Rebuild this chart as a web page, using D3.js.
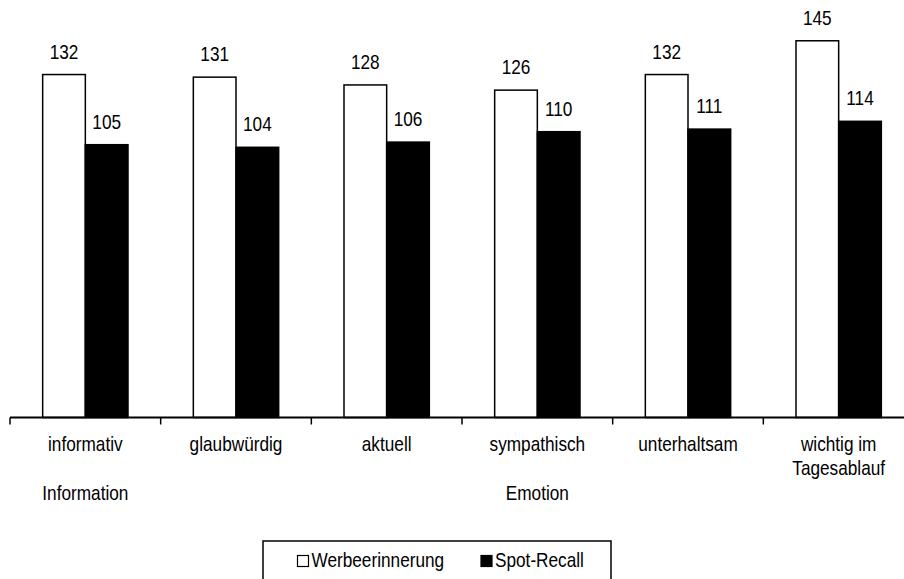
<!DOCTYPE html>
<html><head><meta charset="utf-8">
<script src="https://cdn.jsdelivr.net/npm/d3@7"></script>
<style>
html,body{margin:0;padding:0;background:#fff;}
svg{display:block;}
text{font-family:"Liberation Sans",Arial,sans-serif;fill:#000;}
</style></head>
<body>
<svg id="c" width="904" height="579"></svg>
<script>
const categories = ["informativ", "glaubwürdig", "aktuell", "sympathisch", "unterhaltsam", "wichtig im\nTagesablauf"];
const groups = [{label: "Information", index: 0}, {label: "Emotion", index: 3}];
const seriesNames = ["Werbeerinnerung", "Spot-Recall"];
const werbeerinnerung = [132, 131, 128, 126, 132, 145];
const spotRecall = [105, 104, 106, 110, 111, 114];

const NARROW = 0.82;
const FS = 21;
const svg = d3.select("#c");
function ntext(parent, xPos, yPos, str, anchor) {
  return parent.append("text")
    .attr("transform", `translate(${xPos},${yPos}) scale(${NARROW},1)`)
    .attr("text-anchor", anchor || "middle").attr("font-size", FS).text(str);
}

const baseY = 417.5;
const y = d3.scaleLinear().domain([0, 160]).range([baseY, baseY - 415.7]);
const x = d3.scaleBand().domain(categories).range([10, 914]).padding(0);
const bw = x.bandwidth();
const xs = d3.scaleBand().domain(seriesNames).range([bw * 0.2168, bw * 0.7832]).padding(0);
const fills = ["#fff", "#000"];
const data = categories.map((c, i) => ({c, vals: [werbeerinnerung[i], spotRecall[i]]}));

const g = svg.append("g");
data.forEach(d => {
  d.vals.forEach((v, k) => {
    const bx = x(d.c) + xs(seriesNames[k]);
    g.append("rect")
      .attr("x", bx).attr("y", y(v))
      .attr("width", xs.bandwidth()).attr("height", y(0) - y(v))
      .attr("fill", fills[k]).attr("stroke", "#000").attr("stroke-width", 1.5);
    ntext(g, bx + xs.bandwidth() / 2, y(v) - 16, v);
  });
});

// axis
svg.append("line").attr("x1", 10).attr("x2", 904).attr("y1", baseY).attr("y2", baseY)
  .attr("stroke", "#000").attr("stroke-width", 2);
const bounds = categories.map(c => x(c)).concat([x.range()[1]]);
svg.selectAll(".tk").data(bounds).enter().append("line")
  .attr("x1", d => d).attr("x2", d => d).attr("y1", baseY).attr("y2", baseY + 7)
  .attr("stroke", "#000").attr("stroke-width", 1.5);

// category labels
data.forEach(d => {
  d.c.split("\n").forEach((ln, i) => ntext(svg, x(d.c) + bw / 2, 451 + i * 24, ln));
});
groups.forEach(gr => {
  ntext(svg, x(categories[gr.index]) + bw / 2, 500, gr.label);
});

// legend
const leg = svg.append("g");
leg.append("rect").attr("x", 263).attr("y", 541).attr("width", 348).attr("height", 50)
  .attr("fill", "#fff").attr("stroke", "#000").attr("stroke-width", 1.5);
const legPos = [{sx: 297.5, tx: 311.5}, {sx: 481, tx: 495}];
seriesNames.forEach((s, k) => {
  leg.append("rect").attr("x", legPos[k].sx).attr("y", 555.5).attr("width", 11).attr("height", 11)
    .attr("fill", fills[k]).attr("stroke", "#000").attr("stroke-width", 1.2);
  ntext(leg, legPos[k].tx, 567, s, "start");
});
</script>
</body></html>
